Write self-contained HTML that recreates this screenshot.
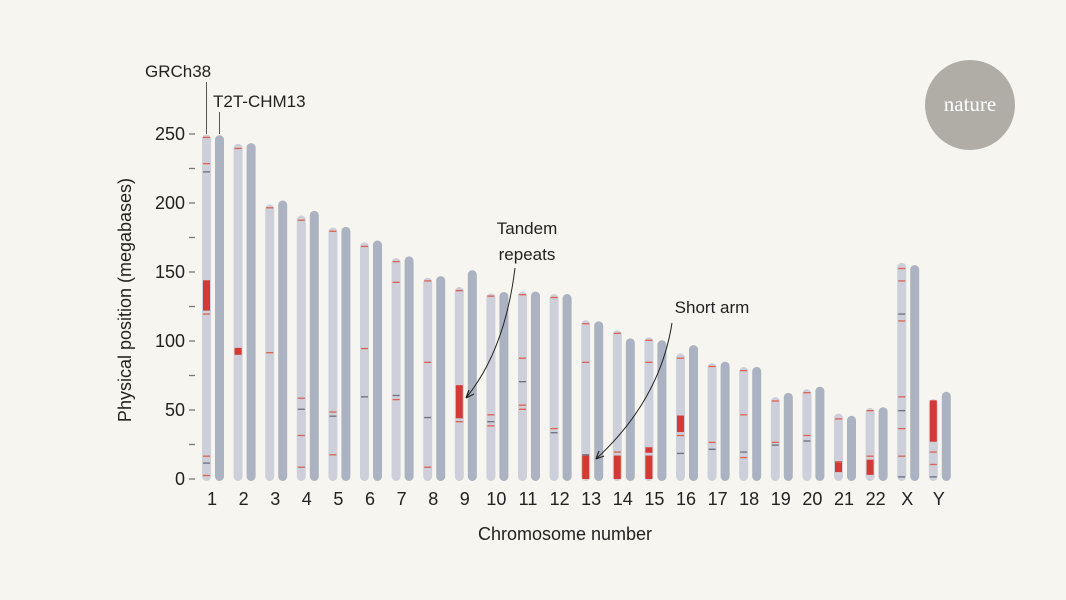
<!DOCTYPE html>
<html><head><meta charset="utf-8"><style>
body{margin:0;background:#f6f5ef;}
svg{display:block;font-family:"Liberation Sans",sans-serif;}
</style></head><body>
<svg id="s" width="1066" height="600" viewBox="0 0 1066 600">
<rect width="1066" height="600" fill="#f6f5ef"/>
<circle cx="970" cy="105" r="45" fill="#b0ada6"/>
<text x="970" y="111" fill="#fff" font-family="Liberation Serif,serif" font-size="21" text-anchor="middle">nature</text>
<text transform="translate(131,300) rotate(-90)" font-size="18" fill="#222" text-anchor="middle">Physical position (megabases)</text>
<text x="565" y="540" font-size="18" fill="#222" text-anchor="middle">Chromosome number</text>
<text x="145" y="77" font-size="17" fill="#222">GRCh38</text>
<text x="213" y="107" font-size="17" fill="#222">T2T-CHM13</text>
<line x1="206.5" y1="82" x2="206.5" y2="134" stroke="#555" stroke-width="1"/>
<line x1="219.5" y1="112" x2="219.5" y2="134" stroke="#555" stroke-width="1"/>
<text x="527" y="234" font-size="17" fill="#222" text-anchor="middle">Tandem</text>
<text x="527" y="260" font-size="17" fill="#222" text-anchor="middle">repeats</text>
<text x="712" y="313" font-size="17" fill="#222" text-anchor="middle">Short arm</text>
<g id="g"></g>
<path d="M515 268 Q505 350 466 398" fill="none" stroke="#222" stroke-width="1"/>
<path d="M466 398 l3 -8 M466 398 l8 -4" stroke="#222" stroke-width="1.2"/>
<path d="M672 323 Q660 400 596 459" fill="none" stroke="#222" stroke-width="1"/>
<path d="M596 459 l3 -8 M596 459 l8 -3" stroke="#222" stroke-width="1.2"/>
</svg>
<script>
var g=document.getElementById('g'),h='';
function y(v){return 479-v*1.38;}
for(var t=0;t<=250;t+=25){var yy=y(t);h+='<line x1="189" x2="195" y1="'+yy+'" y2="'+yy+'" stroke="#777" stroke-width="1.3"/>';
if(t%50==0)h+='<text x="185" y="'+(yy+6)+'" font-size="18" fill="#222" text-anchor="end">'+t+'</text>';}
var L=[[248.9,248.4],[242.2,242.7],[198.3,201.1],[190.2,193.6],[181.5,182],[170.8,172.1],[159.3,160.6],[145.1,146.3],[138.4,150.6],[133.8,134.8],[135.1,135.1],[133.3,133.3],[114.4,113.6],[107,101.2],[102,99.8],[90.3,96.3],[83.3,84.3],[80.4,80.5],[58.6,61.7],[64.4,66.2],[46.7,45.1],[50.8,51.3],[156,154.3],[57.2,62.5]];
var N=['1','2','3','4','5','6','7','8','9','10','11','12','13','14','15','16','17','18','19','20','21','22','X','Y'];
var B={0:[[122,144]],1:[[90,95]],8:[[44,68]],12:[[0,17]],13:[[0,17]],14:[[0,17],[19,23]],15:[[34,46]],20:[[5,12]],21:[[3,14]],23:[[27,57]]};
var T={0:[248,229,223,120,17,12,3],1:[240,93],2:[197,92],3:[188,59,51,32,9],4:[180,49,46,18],5:[169,95,60],6:[158,143,61,58],7:[144,85,45,9],8:[137,42],9:[133,47,42,39],10:[134,88,71,54,51],11:[132,37,34],12:[113,85,18],13:[106,20],14:[101,85],15:[88,32,19],16:[82,27,22],17:[79,47,20,16],18:[57,27,25],19:[63,32,28],20:[44,13],21:[50,17],22:[153,144,120,115,60,50,37,17,2],23:[20,11,2]};
for(var i=0;i<24;i++){var cx=212+i*31.6;
h+='<text x="'+cx+'" y="505" font-size="18" fill="#222" text-anchor="middle">'+N[i]+'</text>';
var a=cx-10,b=cx+3;
h+='<rect x="'+a+'" y="'+(y(L[i][0])-1)+'" width="9" height="'+(L[i][0]*1.38+3)+'" rx="4.5" fill="#cdd0da"/>';
h+='<rect x="'+b+'" y="'+(y(L[i][1])-1)+'" width="9" height="'+(L[i][1]*1.38+3)+'" rx="4.5" fill="#abb2c1"/>';
(T[i]||[]).forEach(function(v,k){h+='<rect x="'+(a+1)+'" y="'+y(v)+'" width="7" height="1.3" fill="'+(k%3==2?'#6b7080':'#e0604f')+'"/>';});
(B[i]||[]).forEach(function(r){h+='<rect x="'+(a+1)+'" y="'+y(r[1])+'" width="7" height="'+((r[1]-r[0])*1.38)+'" fill="#d43a35"/>';});
}
g.innerHTML=h;
</script>
</body></html>
